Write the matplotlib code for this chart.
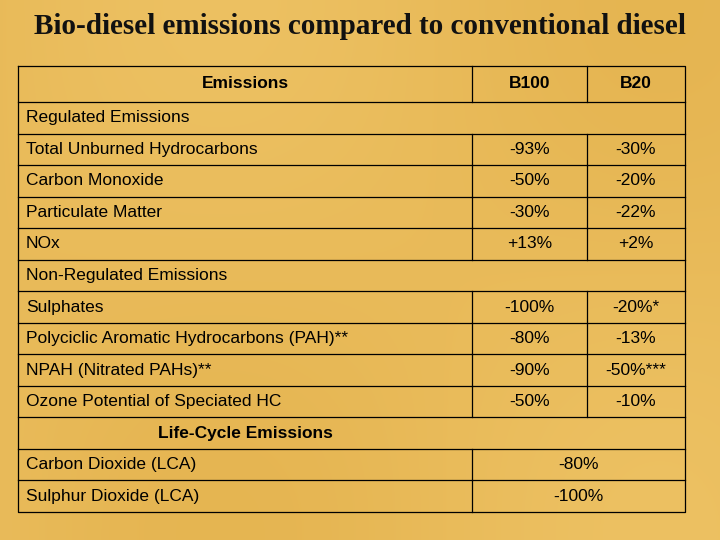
import matplotlib
matplotlib.use("Agg")
import matplotlib.pyplot as plt
import numpy as np

title = "Bio-diesel emissions compared to conventional diesel"
header = ["Emissions", "B100", "B20"]

# (label, b100, b20); b20 None -> merged value cell; b100 None -> section row
rows = [
    ("Regulated Emissions", None, None),
    ("Total Unburned Hydrocarbons", "-93%", "-30%"),
    ("Carbon Monoxide", "-50%", "-20%"),
    ("Particulate Matter", "-30%", "-22%"),
    ("NOx", "+13%", "+2%"),
    ("Non-Regulated Emissions", None, None),
    ("Sulphates", "-100%", "-20%*"),
    ("Polyciclic Aromatic Hydrocarbons (PAH)**", "-80%", "-13%"),
    ("NPAH (Nitrated PAHs)**", "-90%", "-50%***"),
    ("Ozone Potential of Speciated HC", "-50%", "-10%"),
    ("Life-Cycle Emissions", None, None),
    ("Carbon Dioxide (LCA)", "-80%", None),
    ("Sulphur Dioxide (LCA)", "-100%", None),
]

fig = plt.figure(figsize=(7.2, 5.4), dpi=100)
ax = fig.add_axes([0, 0, 1, 1])
ax.set_xlim(0, 720)
ax.set_ylim(540, 0)
ax.axis("off")

# warm gold background with a soft gradient
yy, xx = np.mgrid[0:540, 0:720]
g = 0.5 + 0.5 * np.sin(xx / 140.0) * np.cos(yy / 170.0)
base = np.array([0.90, 0.71, 0.32])
hi = np.array([0.96, 0.81, 0.46])
img = base[None, None, :] * (1 - g[..., None] * 0.45) + hi[None, None, :] * g[..., None] * 0.45
ax.imshow(img, extent=[0, 720, 540, 0], zorder=0)

ax.text(360, 26, title, ha="center", va="center", fontsize=21, fontweight="bold",
        family="Liberation Serif", color="#111111")

x0, x1, x2, x3 = 18, 472, 587, 685
top, bottom = 66, 512
h_head = 36
h_row = (bottom - top - h_head) / len(rows)
lw = 0.9
sans = "Liberation Sans"

ax.plot([x0, x3, x3, x0, x0], [top, top, bottom, bottom, top], color="black", lw=lw)
ax.text((x0 + x1) / 2, top + h_head / 2, header[0], ha="center", va="center",
        fontsize=12.5, fontweight="bold", family=sans)
ax.text((x1 + x2) / 2, top + h_head / 2, header[1], ha="center", va="center",
        fontsize=12.5, fontweight="bold", family=sans)
ax.text((x2 + x3) / 2, top + h_head / 2, header[2], ha="center", va="center",
        fontsize=12.5, fontweight="bold", family=sans)
ax.plot([x1, x1], [top, top + h_head], color="black", lw=lw)
ax.plot([x2, x2], [top, top + h_head], color="black", lw=lw)

y = top + h_head
for label, b100, b20 in rows:
    ax.plot([x0, x3], [y, y], color="black", lw=lw)
    yc = y + h_row / 2
    if b100 is None:
        if label == "Life-Cycle Emissions":
            ax.text((x0 + x1) / 2, yc, label, ha="center", va="center",
                    fontsize=12.5, fontweight="bold", family=sans)
        else:
            ax.text(x0 + 8, yc, label, ha="left", va="center", fontsize=12.5, family=sans)
    else:
        ax.text(x0 + 8, yc, label, ha="left", va="center", fontsize=12.5, family=sans)
        ax.plot([x1, x1], [y, y + h_row], color="black", lw=lw)
        if b20 is None:
            ax.text((x1 + x3) / 2, yc, b100, ha="center", va="center", fontsize=12.5, family=sans)
        else:
            ax.plot([x2, x2], [y, y + h_row], color="black", lw=lw)
            ax.text((x1 + x2) / 2, yc, b100, ha="center", va="center", fontsize=12.5, family=sans)
            ax.text((x2 + x3) / 2, yc, b20, ha="center", va="center", fontsize=12.5, family=sans)
    y += h_row

fig.savefig("out.png", dpi=100)
